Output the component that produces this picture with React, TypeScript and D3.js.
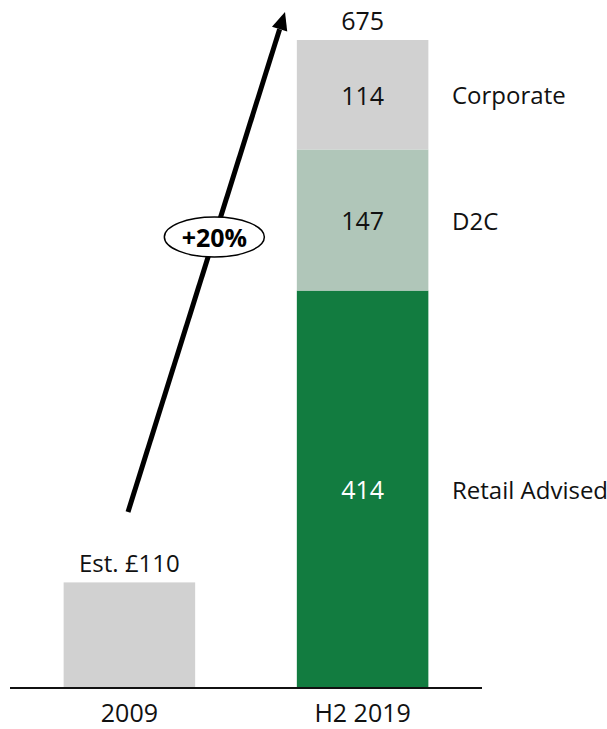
import React from "react";
import * as d3 from "d3";

const categories = ["2009", "H2 2019"];
const total2009 = 110;
const label2009 = "Est. £110";
const segments = ["Retail Advised", "D2C", "Corporate"];
const segmentValues = [414, 147, 114];
const segmentColors = ["#127c40", "#b0c6b9", "#d1d1d1"];
const segmentTextColors = ["#ffffff", "#111111", "#111111"];
const growthLabel = "+20%";

const width = 607;
const height = 729;
const font = "'Open Sans', 'Noto Sans', sans-serif";

export default function App() {
  const total = d3.sum(segmentValues);

  const x = d3.scaleBand()
    .domain(categories)
    .range([10, 482])
    .paddingInner(0.436)
    .paddingOuter(0.23);

  const y = d3.scaleLinear().domain([0, total]).range([688, 40]);

  const stacked = d3.stack<any>()
    .keys(segments)([Object.fromEntries(segments.map((s, i) => [s, segmentValues[i]]))]);

  const x0 = x(categories[0])!;
  const x1 = x(categories[1])!;
  const bw = x.bandwidth();

  // growth arrow
  const ax1 = 128, ay1 = 512, ax2 = 285, ay2 = 12;
  const ang = Math.atan2(ay2 - ay1, ax2 - ax1);
  const headLen = 18, headW = 8;
  const bx = ax2 - headLen * Math.cos(ang), by = ay2 - headLen * Math.sin(ang);
  const px = -Math.sin(ang) * headW, py = Math.cos(ang) * headW;
  const ey = 237;
  const ex = ax1 + (ax2 - ax1) * ((ey - ay1) / (ay2 - ay1));

  return (
    <svg width={width} height={height} style={{ position: "absolute", left: 0, top: 0 }}
      fontFamily={font}>
      <rect x={x0} y={y(total2009)} width={bw} height={y(0) - y(total2009)} fill="#d1d1d1" />
      <text x={x0 + bw / 2} y={y(total2009) - 20} textAnchor="middle" dominantBaseline="central"
        fontSize={24} fill="#111">{label2009}</text>

      {stacked.map((s, i) => {
        const [a, b] = s[0];
        const cy = (y(a) + y(b)) / 2;
        return (
          <g key={s.key}>
            <rect x={x1} y={y(b)} width={bw} height={y(a) - y(b)} fill={segmentColors[i]} />
            <text x={x1 + bw / 2} y={cy} textAnchor="middle" dominantBaseline="central"
              fontSize={25} fill={segmentTextColors[i]}>{segmentValues[i]}</text>
            <text x={452} y={cy} dominantBaseline="central"
              fontSize={24} fill="#111">{s.key}</text>
          </g>
        );
      })}
      <text x={x1 + bw / 2} y={20} textAnchor="middle" dominantBaseline="central"
        fontSize={25} fill="#111">{total}</text>

      <line x1={10} x2={482} y1={y(0)} y2={y(0)} stroke="#111" strokeWidth={2} />
      {categories.map((c) => (
        <text key={c} x={x(c)! + bw / 2} y={712} textAnchor="middle" dominantBaseline="central"
          fontSize={25} fill="#111">{c}</text>
      ))}

      <line x1={ax1} y1={ay1} x2={bx} y2={by} stroke="#000" strokeWidth={5} />
      <path d={`M${ax2},${ay2}L${bx + px},${by + py}L${bx - px},${by - py}Z`} fill="#000" />
      <ellipse cx={ex} cy={ey} rx={50} ry={20} fill="#fff" stroke="#000" strokeWidth={1.5} />
      <text x={ex} y={ey} textAnchor="middle" dominantBaseline="central" fontSize={25}
        fontWeight="bold" fill="#000">{growthLabel}</text>
    </svg>
  );
}
